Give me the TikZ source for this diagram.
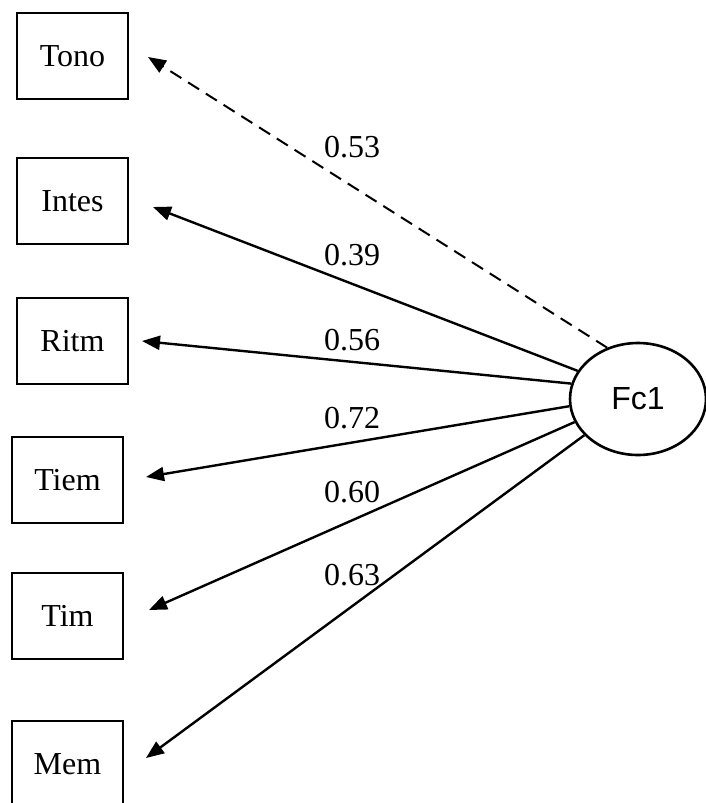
\documentclass[tikz,border=0pt]{standalone}
\usepackage{fontspec}
\setmainfont{Liberation Serif}
\newfontfamily\arialfont{Liberation Sans}
\usetikzlibrary{arrows.meta,shapes.geometric}
\tikzset{
  varbox/.style={draw, line width=2.6pt, minimum width=111pt, minimum height=86pt, inner sep=0pt,
    font=\fontsize{32}{36}\selectfont},
  factor/.style={draw, ellipse, line width=2.6pt, minimum width=136pt, minimum height=112pt, inner sep=0pt,
    font=\arialfont\fontsize{32}{36}\selectfont},
  loadlbl/.style={inner sep=0pt, font=\fontsize{32}{36}\selectfont},
  path/.style={line width=2.4pt, -{Triangle[length=18pt,width=14pt]}},
  dpath/.style={path, line width=2pt, dash pattern=on 13pt off 8pt}
}
\begin{document}
\begin{tikzpicture}[x=1pt,y=1pt]
\clip (0,0) rectangle (706,-803);
\node[varbox] (tono)  at (72.5,-56)  {Tono};
\node[varbox] (intes) at (72.5,-201) {Intes};
\node[varbox] (ritm)  at (72.5,-341) {Ritm};
\node[varbox] (tiem)  at (67.5,-480) {Tiem};
\node[varbox] (tim)   at (67.5,-616) {Tim};
\node[varbox] (mem)   at (67.5,-764) {Mem};
\node[factor] (fc) at (638,-399) {Fc1};
\coordinate (t1) at (148,-57);
\coordinate (t2) at (153,-207);
\coordinate (t3) at (142,-341);
\coordinate (t4) at (146,-477);
\coordinate (t5) at (149,-610);
\coordinate (t6) at (146,-758);
\draw[dpath] (fc.121.5) -- (t1);
\draw[path] (fc.155) -- (t2);
\draw[path] (fc.167.2) -- (t3);
\draw[path] (fc.186.8) -- (t4);
\draw[path] (fc.200.9) -- (t5);
\draw[path] (fc.214.4) -- (t6);
\node[loadlbl] (l1) at (352,-147) {0.53};
\node[loadlbl] (l2) at (352,-255) {0.39};
\node[loadlbl] (l3) at (352,-340) {0.56};
\node[loadlbl] (l4) at (352,-418) {0.72};
\node[loadlbl] (l5) at (352,-492) {0.60};
\node[loadlbl] (l6) at (352,-575) {0.63};
\end{tikzpicture}
\end{document}
